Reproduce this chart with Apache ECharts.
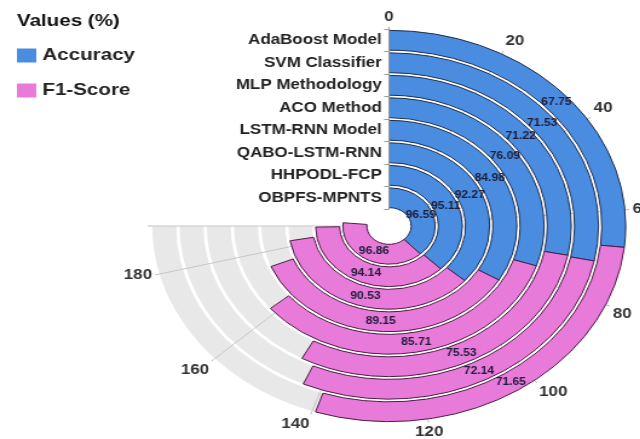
<!DOCTYPE html>
<html>
<head>
<meta charset="utf-8">
<title>Accuracy / F1-Score</title>
<script src="https://cdn.jsdelivr.net/npm/echarts@6/dist/echarts.min.js"></script>
<style>
  html, body { margin: 0; padding: 0; background: #fff; overflow: hidden; }
  /* the reference is a bit wider than tall, so draw narrow and stretch */
  #main { width: 529px; height: 439px; transform: scaleX(1.21); transform-origin: 0 0; }
</style>
</head>
<body>
<div id="main"></div>
<script>
// inner ring first
const models = ['OBPFS-MPNTS', 'HHPODL-FCP', 'QABO-LSTM-RNN', 'LSTM-RNN Model',
  'ACO Method', 'MLP Methodology', 'SVM Classifier', 'AdaBoost Model'];
const accuracy = [96.59, 95.11, 92.27, 84.98, 76.09, 71.22, 71.53, 67.75];
const f1Score = [96.86, 94.14, 90.53, 89.15, 85.71, 75.53, 72.14, 71.65];
const angleMax = 190;
// grey track behind every ring, full length of the angle axis
const track = models.map(() => angleMax);

const chart = echarts.init(document.getElementById('main'));

const labelStyle = {
  show: true,
  position: 'middle',
  rotate: 0,
  fontSize: 10,
  fontWeight: 'bold',
  fontFamily: 'Liberation Sans, Arial',
  color: '#1d1d3a'
};

const option = {
  animation: false,
  title: {
    text: 'Values (%)',
    left: 9,
    top: 8,
    textStyle: { fontSize: 17, fontWeight: 'bold', color: '#111', fontFamily: 'Liberation Sans, Arial' }
  },
  legend: {
    orient: 'vertical',
    left: 9,
    top: 42,
    itemWidth: 16,
    itemHeight: 14,
    itemGap: 18,
    icon: 'rect',
    itemStyle: { borderWidth: 0 },
    textStyle: { fontSize: 17, fontWeight: 'bold', color: '#222', fontFamily: 'Liberation Sans, Arial' },
    data: ['Accuracy', 'F1-Score']
  },
  polar: {
    center: [321.5, 226],
    radius: [17, 197]
  },
  angleAxis: {
    type: 'value',
    min: 0,
    max: angleMax,
    interval: 20,
    startAngle: 90,
    endAngle: -180,
    clockwise: true,
    axisLine: { show: false },
    axisTick: { show: true, length: 2, lineStyle: { color: '#aaa' } },
    axisLabel: {
      margin: 5,
      fontSize: 14,
      fontWeight: 'bold',
      color: '#333',
      fontFamily: 'Liberation Sans, Arial',
      formatter: function (v) { return v % 20 === 0 ? v : ''; }
    },
    splitLine: { show: true, lineStyle: { color: '#c8c8c8', width: 1 } }
  },
  radiusAxis: {
    type: 'category',
    data: models,
    axisLine: { show: true, lineStyle: { color: '#999' } },
    axisTick: { show: true, length: 4, interval: 0, lineStyle: { color: '#999' } },
    axisLabel: {
      interval: 0,
      margin: 6,
      fontSize: 14,
      fontWeight: 'bold',
      color: '#222',
      fontFamily: 'Liberation Sans, Arial'
    },
    z: 10
  },
  series: [
    {
      name: 'track',
      type: 'bar',
      coordinateSystem: 'polar',
      data: track,
      barGap: '-100%',
      barCategoryGap: '12%',
      silent: true,
      itemStyle: { color: 'rgba(195,195,195,0.38)', borderWidth: 0 },
      label: { show: false }
    },
    {
      name: 'Accuracy',
      type: 'bar',
      coordinateSystem: 'polar',
      stack: 'total',
      data: accuracy,
      barGap: '-100%',
      barCategoryGap: '12%',
      itemStyle: { color: '#4a8de0', borderColor: '#1f2f4f', borderWidth: 1 },
      label: labelStyle
    },
    {
      name: 'F1-Score',
      type: 'bar',
      coordinateSystem: 'polar',
      stack: 'total',
      data: f1Score,
      barGap: '-100%',
      barCategoryGap: '12%',
      itemStyle: { color: '#e87ad9', borderColor: '#4a1f45', borderWidth: 1 },
      label: labelStyle
    }
  ]
};

chart.setOption(option);
window.onresize = function () {
  chart.resize();
};
</script>
</body>
</html>
